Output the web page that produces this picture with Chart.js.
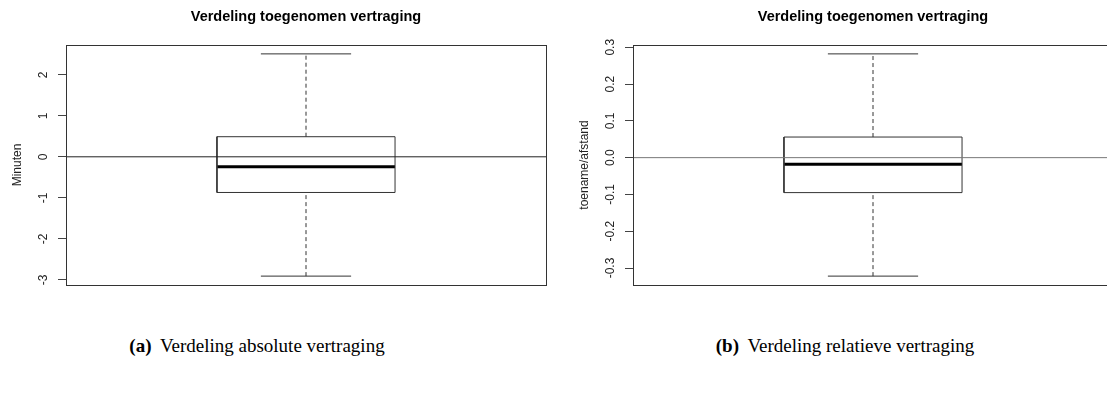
<!DOCTYPE html>
<html>
<head>
<meta charset="utf-8">
<script src="https://cdn.jsdelivr.net/npm/chart.js@4/dist/chart.umd.min.js"></script>
<style>
  html, body { margin: 0; padding: 0; background: #fff; overflow: hidden; }
  body { width: 1107px; height: 399px; position: relative; }
  .panel { position: absolute; top: 0; width: 612px; height: 300px; }
  .caption {
    position: absolute; top: 335px; width: 400px; text-align: center;
    font-family: "Liberation Serif", "DejaVu Serif", serif; font-size: 19px; color: #000;
    white-space: nowrap;
  }
  .caption b { margin-right: 4px; }
</style>
</head>
<body>
<div class="panel" style="left:0px"><canvas id="absChart" width="612" height="300"></canvas></div>
<div class="panel" style="left:567px"><canvas id="relChart" width="612" height="300"></canvas></div>
<div class="caption" style="left:57px"><b>(a)</b> Verdeling absolute vertraging</div>
<div class="caption" style="left:645px"><b>(b)</b> Verdeling relatieve vertraging</div>

<script>
// Five-number summaries: whisker low, lower hinge, median, upper hinge, whisker high
const summaryNames = ['min', 'q1', 'median', 'q3', 'max'];
const absoluteDelay = [-2.91, -0.87, -0.24, 0.49, 2.51];   // minuten
const relativeDelay = [-0.322, -0.095, -0.018, 0.056, 0.282]; // toename/afstand

const absoluteTicks = [-3, -2, -1, 0, 1, 2];
const relativeTicks = [-0.3, -0.2, -0.1, 0.0, 0.1, 0.2, 0.3];

const chartTitle = 'Verdeling toegenomen vertraging';

// Box geometry on a 0..1 horizontal scale
const CENTER = 0.5, BOX_HALF = 0.1855, CAP_HALF = 0.094;

function seg(x1, y1, x2, y2) { return [{x: x1, y: y1}, {x: x2, y: y2}]; }

function boxDatasets(stats, lineColor) {
  const [lo, q1, med, q3, hi] = stats;
  const base = { showLine: true, pointRadius: 0, pointHoverRadius: 0, fill: false, borderCapStyle: 'butt' };
  return [
    { ...base, label: 'nul', data: seg(0, 0, 1, 0), borderColor: lineColor, borderWidth: 1 },
    { ...base, label: 'whisker', data: seg(CENTER, q3, CENTER, hi), borderColor: '#333', borderWidth: 1, borderDash: [4, 3] },
    { ...base, label: 'whisker', data: seg(CENTER, lo, CENTER, q1), borderColor: '#333', borderWidth: 1, borderDash: [4, 3] },
    { ...base, label: 'cap', data: seg(CENTER - CAP_HALF, hi, CENTER + CAP_HALF, hi), borderColor: '#333', borderWidth: 1 },
    { ...base, label: 'cap', data: seg(CENTER - CAP_HALF, lo, CENTER + CAP_HALF, lo), borderColor: '#333', borderWidth: 1 },
    { ...base, label: 'box', borderColor: '#333', borderWidth: 1, data: [
        {x: CENTER - BOX_HALF, y: q1}, {x: CENTER + BOX_HALF, y: q1},
        {x: CENTER + BOX_HALF, y: q3}, {x: CENTER - BOX_HALF, y: q3},
        {x: CENTER - BOX_HALF, y: q1}] },
    { ...base, label: 'mediaan', data: seg(CENTER - BOX_HALF, med, CENTER + BOX_HALF, med), borderColor: '#000', borderWidth: 3 }
  ];
}

// Frame around the plot region plus rotated y tick labels
const framePlugin = {
  id: 'frame',
  afterDatasetsDraw(chart) {
    const {ctx, chartArea: a} = chart;
    ctx.save();
    ctx.strokeStyle = '#333';
    ctx.lineWidth = 1;
    ctx.strokeRect(Math.round(a.left) + 0.5, Math.round(a.top) + 0.5,
                   Math.round(a.right - a.left), Math.round(a.bottom - a.top));
    const y = chart.scales.y;
    const fmt = chart.options.scales.y.ticks.callback;
    ctx.fillStyle = '#222';
    ctx.font = '12px "Liberation Sans", Arial, sans-serif';
    ctx.textAlign = 'center';
    ctx.textBaseline = 'middle';
    y.ticks.forEach(t => {
      const py = y.getPixelForValue(t.value);
      ctx.save();
      ctx.translate(44, py);
      ctx.rotate(-Math.PI / 2);
      ctx.fillText(fmt(t.value), 0, 0);
      ctx.restore();
    });
    ctx.restore();
  }
};

function makeChart(id, stats, ticks, axisTitle, fmt, zeroColor) {
  const span = stats[4] - stats[0];
  const yMin = stats[0] - 0.04 * span, yMax = stats[4] + 0.04 * span;
  return new Chart(document.getElementById(id), {
    type: 'scatter',
    data: { datasets: boxDatasets(stats, zeroColor) },
    plugins: [framePlugin],
    options: {
      responsive: false,
      animation: false,
      events: [],
      layout: { padding: { left: 0, right: 66, top: 0, bottom: 15 } },
      plugins: {
        legend: { display: false },
        tooltip: { enabled: false },
        title: {
          display: true, text: chartTitle, fullSize: false, color: '#000',
          font: { family: '"Liberation Sans", Arial, sans-serif', size: 14.5, weight: 'bold', lineHeight: 1.2 },
          padding: { top: 8, bottom: 19.6 }
        }
      },
      scales: {
        x: { type: 'linear', min: 0, max: 1, display: false },
        y: {
          type: 'linear', min: yMin, max: yMax,
          afterFit(s) { s.width = 66; },
          afterBuildTicks(s) { s.ticks = ticks.map(v => ({ value: v })); },
          ticks: { display: false, callback: fmt },
          grid: { drawOnChartArea: false, drawTicks: true, tickLength: 8, color: '#444', lineWidth: 1 },
          border: { display: false },
          title: {
            display: true, text: axisTitle, color: '#222',
            font: { family: '"Liberation Sans", Arial, sans-serif', size: 12, lineHeight: 1.2 },
            padding: { top: 10, bottom: 0 }
          }
        }
      }
    }
  });
}

makeChart('absChart', absoluteDelay, absoluteTicks, 'Minuten', v => String(v), '#222');
makeChart('relChart', relativeDelay, relativeTicks, 'toename/afstand', v => v.toFixed(1), '#777');
</script>
</body>
</html>
